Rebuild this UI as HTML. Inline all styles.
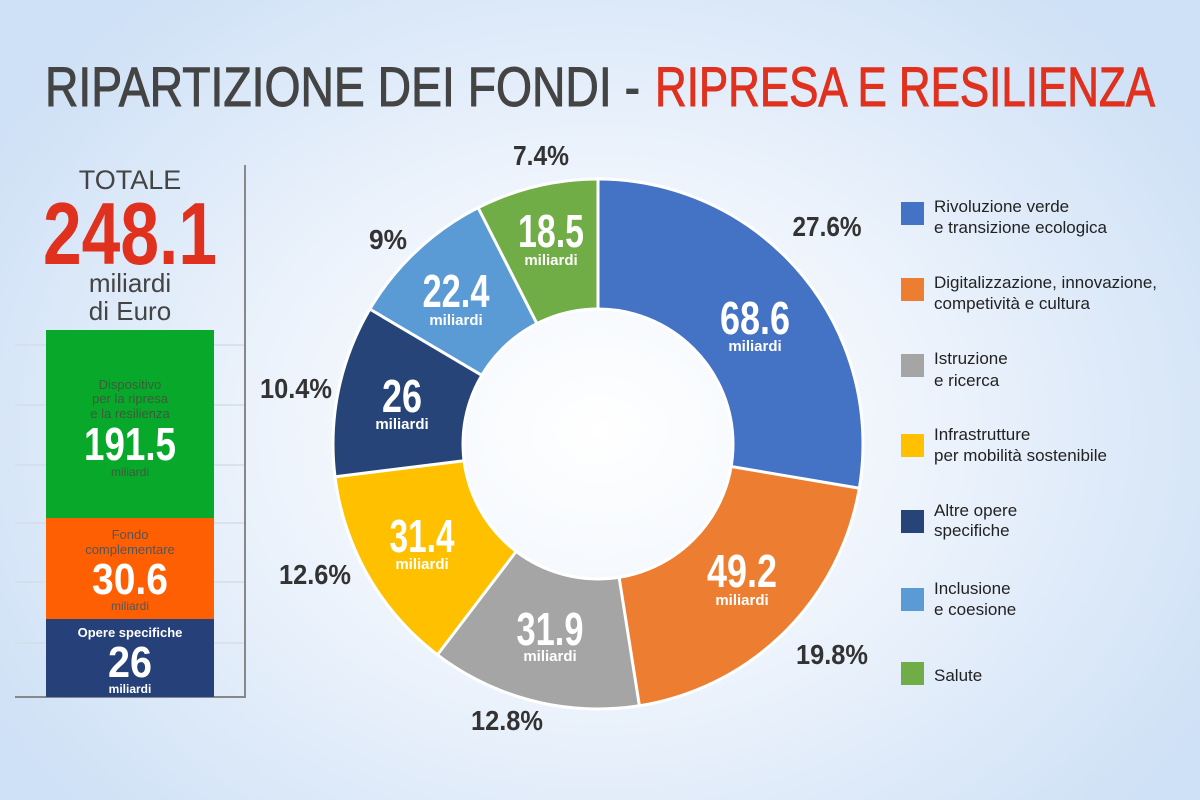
<!DOCTYPE html>
<html><head><meta charset="utf-8"><style>
html,body{margin:0;padding:0;width:1200px;height:800px;overflow:hidden}
body{background:radial-gradient(ellipse 700px 560px at 600px 430px,#ffffff 0%,#eef4fc 45%,#cfe1f6 100%)}
svg{display:block}
.c{font-family:"Liberation Sans Narrow","Liberation Sans",sans-serif;font-weight:bold}
.s{font-family:"Liberation Sans",sans-serif}
</style></head><body>
<svg width="1200" height="800" viewBox="0 0 1200 800">
<text x="45" y="106" class="s" font-size="56" fill="#444" stroke="#444" stroke-width="1" textLength="595" lengthAdjust="spacingAndGlyphs">RIPARTIZIONE DEI FONDI - </text>
<text x="655" y="106" class="s" font-size="56" fill="#e0301e" stroke="#e0301e" stroke-width="1" textLength="500" lengthAdjust="spacingAndGlyphs">RIPRESA E RESILIENZA</text>

<g stroke="#d4dde8" stroke-width="1.5">
<line x1="15" y1="345" x2="245" y2="345"/><line x1="15" y1="405" x2="245" y2="405"/>
<line x1="15" y1="465" x2="245" y2="465"/><line x1="15" y1="523" x2="245" y2="523"/>
<line x1="15" y1="582" x2="245" y2="582"/><line x1="15" y1="643" x2="245" y2="643"/>
</g>
<line x1="245" y1="165" x2="245" y2="698" stroke="#888" stroke-width="2"/>
<line x1="15" y1="697" x2="246" y2="697" stroke="#888" stroke-width="2"/>
<text x="130" y="189" text-anchor="middle" class="s" font-size="27" fill="#444">TOTALE</text>
<text x="130" y="264" text-anchor="middle" class="c" font-size="88" fill="#e0301e" textLength="174" lengthAdjust="spacingAndGlyphs">248.1</text>
<text x="130" y="292" text-anchor="middle" class="s" font-size="26" fill="#444">miliardi</text>
<text x="130" y="320" text-anchor="middle" class="s" font-size="26" fill="#444">di Euro</text>
<rect x="46" y="330" width="168" height="189" fill="#08a92a"/>
<rect x="46" y="518" width="168" height="102" fill="#fe5f02"/>
<rect x="46" y="619" width="168" height="78" fill="#264079"/>
<g class="s" font-size="13" fill="#3d5a3d" text-anchor="middle">
<text x="130" y="389">Dispositivo</text><text x="130" y="403">per la ripresa</text><text x="130" y="418">e la resilienza</text>
<text x="130" y="476" font-size="12">miliardi</text></g>
<text x="130" y="460" text-anchor="middle" class="c" font-size="46" fill="#fff" textLength="92" lengthAdjust="spacingAndGlyphs">191.5</text>
<g class="s" font-size="13" fill="#555" text-anchor="middle">
<text x="130" y="539">Fondo</text><text x="130" y="554">complementare</text>
<text x="130" y="610" font-size="12">miliardi</text></g>
<text x="130" y="594" text-anchor="middle" class="c" font-size="44" fill="#fff" textLength="76" lengthAdjust="spacingAndGlyphs">30.6</text>
<text x="130" y="637" text-anchor="middle" class="s" font-size="13" font-weight="bold" fill="#fff">Opere specifiche</text>
<text x="130" y="677" text-anchor="middle" class="c" font-size="44" fill="#fff" textLength="44" lengthAdjust="spacingAndGlyphs">26</text>
<text x="130" y="693" text-anchor="middle" class="s" font-size="12" font-weight="bold" fill="#fff">miliardi</text>

<g transform="rotate(-90 598 444)" fill="none" stroke-width="130">
<circle cx="598" cy="444" r="200" stroke="#4472c4" stroke-dasharray="347.6 2000" stroke-dashoffset="0"/>
<circle cx="598" cy="444" r="200" stroke="#ed7d31" stroke-dasharray="249.3 2000" stroke-dashoffset="-347.6"/>
<circle cx="598" cy="444" r="200" stroke="#a5a5a5" stroke-dasharray="161.6 2000" stroke-dashoffset="-596.9"/>
<circle cx="598" cy="444" r="200" stroke="#ffc000" stroke-dasharray="159.1 2000" stroke-dashoffset="-758.5"/>
<circle cx="598" cy="444" r="200" stroke="#264478" stroke-dasharray="131.7 2000" stroke-dashoffset="-917.6"/>
<circle cx="598" cy="444" r="200" stroke="#5b9bd5" stroke-dasharray="113.5 2000" stroke-dashoffset="-1049.3"/>
<circle cx="598" cy="444" r="200" stroke="#70ad47" stroke-dasharray="93.8 2000" stroke-dashoffset="-1162.8"/>
</g>
<g stroke="#fff" stroke-width="3">
<line x1="598" y1="177" x2="598" y2="310"/>
<line x1="731.1" y1="466.5" x2="861" y2="488.5"/>
<line x1="619.1" y1="577.3" x2="639.6" y2="707"/>
<line x1="516.2" y1="551.4" x2="436.5" y2="656"/>
<line x1="464" y1="460.7" x2="333.5" y2="477"/>
<line x1="481.8" y1="375.3" x2="368.8" y2="308.5"/>
<line x1="536.9" y1="323.6" x2="477.5" y2="206.5"/>
</g>
<circle cx="598" cy="444" r="135" fill="none" stroke="#fff" stroke-width="3"/>
<circle cx="598" cy="444" r="265" fill="none" stroke="#fff" stroke-width="3"/>

<g class="c" fill="#fff" text-anchor="middle" font-size="46">
<text x="755" y="334" textLength="70" lengthAdjust="spacingAndGlyphs">68.6</text>
<text x="742" y="587" textLength="70" lengthAdjust="spacingAndGlyphs">49.2</text>
<text x="550" y="645" textLength="67" lengthAdjust="spacingAndGlyphs">31.9</text>
<text x="422" y="552" textLength="65" lengthAdjust="spacingAndGlyphs">31.4</text>
<text x="402" y="412" textLength="40" lengthAdjust="spacingAndGlyphs">26</text>
<text x="456" y="307" textLength="67" lengthAdjust="spacingAndGlyphs">22.4</text>
<text x="551" y="247" textLength="66" lengthAdjust="spacingAndGlyphs">18.5</text>
</g>
<g class="s" fill="#fff" text-anchor="middle" font-size="15" font-weight="bold">
<text x="755" y="351">miliardi</text>
<text x="742" y="605">miliardi</text>
<text x="550" y="661">miliardi</text>
<text x="422" y="569">miliardi</text>
<text x="402" y="429">miliardi</text>
<text x="456" y="325">miliardi</text>
<text x="551" y="265">miliardi</text>
</g>
<g class="c" fill="#333" font-size="28" text-anchor="middle">
<text x="827" y="236" textLength="69" lengthAdjust="spacingAndGlyphs">27.6%</text>
<text x="832" y="664" textLength="72" lengthAdjust="spacingAndGlyphs">19.8%</text>
<text x="507" y="730" textLength="72" lengthAdjust="spacingAndGlyphs">12.8%</text>
<text x="315" y="584" textLength="72" lengthAdjust="spacingAndGlyphs">12.6%</text>
<text x="296" y="398" textLength="72" lengthAdjust="spacingAndGlyphs">10.4%</text>
<text x="388" y="249" textLength="38" lengthAdjust="spacingAndGlyphs">9%</text>
<text x="541" y="165" textLength="56" lengthAdjust="spacingAndGlyphs">7.4%</text>
</g>

<g>
<rect x="901" y="202" width="23" height="23" fill="#4472c4"/>
<rect x="901" y="278" width="23" height="23" fill="#ed7d31"/>
<rect x="901" y="354" width="23" height="23" fill="#a5a5a5"/>
<rect x="901" y="434" width="23" height="23" fill="#ffc000"/>
<rect x="901" y="510" width="23" height="23" fill="#264478"/>
<rect x="901" y="588" width="23" height="23" fill="#5b9bd5"/>
<rect x="901" y="662" width="23" height="23" fill="#70ad47"/>
</g>
<g class="s" fill="#222" font-size="17">
<text x="934" y="212">Rivoluzione verde</text><text x="934" y="233">e transizione ecologica</text>
<text x="934" y="288">Digitalizzazione, innovazione,</text><text x="934" y="309">competività e cultura</text>
<text x="934" y="364">Istruzione</text><text x="934" y="386">e ricerca</text>
<text x="934" y="440">Infrastrutture</text><text x="934" y="461">per mobilità sostenibile</text>
<text x="934" y="516">Altre opere</text><text x="934" y="536">specifiche</text>
<text x="934" y="594">Inclusione</text><text x="934" y="615">e coesione</text>
<text x="934" y="681">Salute</text>
</g>
</svg>
</body></html>
